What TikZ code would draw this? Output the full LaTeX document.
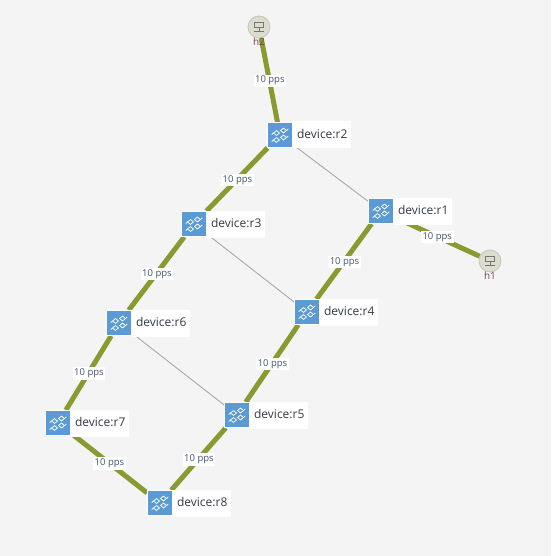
\documentclass[tikz,border=0pt]{standalone}
\usepackage{fontspec}
\setmainfont{Open Sans}
\usetikzlibrary{calc}
\usetikzlibrary{positioning}
\usetikzlibrary{backgrounds}
\definecolor{canvasgray}{HTML}{F4F4F4}
\definecolor{linkolive}{HTML}{8A9A30}
\definecolor{linkgray}{HTML}{A8A8A8}
\definecolor{routerblue}{HTML}{5B9BD5}
\definecolor{hostfill}{HTML}{DCDCCF}
\definecolor{hostedge}{HTML}{C6C6B6}
\definecolor{hostglyph}{HTML}{77776F}
\definecolor{ppstext}{HTML}{44566C}
\definecolor{devtext}{HTML}{333A44}
\definecolor{hosttext}{HTML}{7A3F62}
\tikzset{
  router/.style={draw=white,line width=.8pt,fill=routerblue,minimum size=25,inner sep=0pt},
  devlabel/.style={fill=white,text=devtext,font=\fontsize{12}{12}\selectfont,minimum height=27,inner sep=0pt,inner xsep=4,right=0pt of #1},
  host/.style={circle,draw=hostedge,line width=.8pt,fill=hostfill,minimum size=22,inner sep=0pt},
  hostlabel/.style={text=hosttext,font=\fontsize{10}{10}\selectfont,inner sep=0pt},
  busy/.style={draw=linkolive,line width=5pt},
  idle/.style={draw=linkgray,line width=.9pt},
  pps/.style={midway,fill=white,text=ppstext,font=\fontsize{9.5}{9.5}\selectfont,inner sep=1.5pt,xshift=.5pt,yshift=-.5pt},
  diamondmark/.style={draw=white,line width=.75pt},
  routerglyph/.pic={
    \foreach \dx/\dy/\sg in {3.5/-4.5/1,-3.5/-2/-1,3.5/2.5/1,-3.5/5/-1}{
      \draw [diamondmark] (\dx-3,\dy) -- (\dx,\dy-2.4) -- (\dx+3,\dy) -- (\dx,\dy+2.4) -- cycle;
      \draw [diamondmark] (\dx+\sg*3,\dy) -- (\dx+\sg*4.8,\dy-\sg*1.6);
    }
  },
  hostglyph/.pic={
    \draw [draw=hostglyph,line width=.8pt] (-4.7,-4.5) rectangle (4.7,.5);
    \draw [draw=hostglyph,line width=.8pt] (0,.5) -- (0,4.5) (-4.7,4.5) -- (4.7,4.5);
  }
}
\begin{document}
\begin{tikzpicture}[x=1pt,y=-1pt]
\useasboundingbox (0,0) rectangle (551,556);
\node (r1) at (381,211) [router] {};
\node (r2) at (280,135) [router] {};
\node (r3) at (194,224) [router] {};
\node (r4) at (307,312) [router] {};
\node (r5) at (237,415) [router] {};
\node (r6) at (119,323) [router] {};
\node (r7) at (58,423) [router] {};
\node (r8) at (160,503) [router] {};
\node (h1) at (490,261) [host] {};
\node (h2) at (259,27) [host] {};
\foreach \n in {r1,r2,r3,r4,r5,r6,r7,r8}
  \node (\n lab) [devlabel=\n] {\raisebox{1.2pt}{device:\n}};
\foreach \n in {r1,r2,r3,r4,r5,r6,r7,r8}
  \pic at (\n) {routerglyph};
\pic at (h1) {hostglyph};
\pic at (h2) {hostglyph};
\node (h1lab) at ($(h1)+(0,15)$) [hostlabel] {h1};
\node (h2lab) at ($(h2)+(0,15)$) [hostlabel] {h2};
\begin{scope}[on background layer]
\fill [canvasgray] (0,0) rectangle (551,556);
\draw [idle] (r2) -- (r1);
\draw [idle] (r3) -- (r4);
\draw [idle] (r6) -- (r5);
\draw [busy] (h2) -- node [pps] {10 pps} (r2);
\draw [busy] (r2) -- node [pps] {10 pps} (r3);
\draw [busy] (r1) -- node [pps] {10 pps} (r4);
\draw [busy] (r1) -- node [pps] {10 pps} (h1);
\draw [busy] (r3) -- node [pps] {10 pps} (r6);
\draw [busy] (r4) -- node [pps] {10 pps} (r5);
\draw [busy] (r6) -- node [pps] {10 pps} (r7);
\draw [busy] (r5) -- node [pps] {10 pps} (r8);
\draw [busy] (r7) -- node [pps] {10 pps} (r8);
\end{scope}
\end{tikzpicture}
\end{document}
